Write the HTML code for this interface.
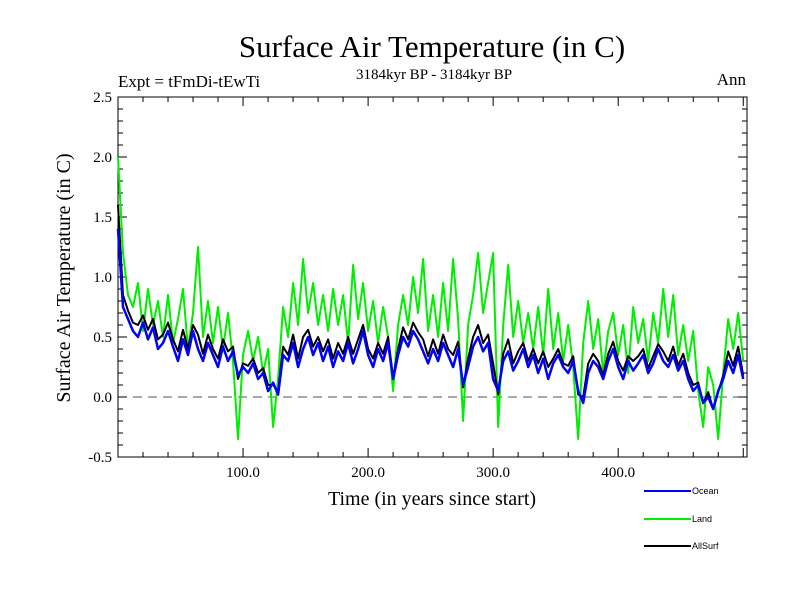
<!DOCTYPE html>
<html><head><meta charset="utf-8"><style>
body{margin:0;background:#fff;}
svg{display:block;}
text{font-family:"Liberation Serif",serif;fill:#000;}
.lg{font-family:"Liberation Sans",sans-serif;font-size:9px;}
</style></head><body>
<svg id="chart" width="800" height="600">
<rect width="800" height="600" fill="#fff"/>
<text x="432" y="57" font-size="31" text-anchor="middle">Surface Air Temperature (in C)</text>
<text x="434" y="79" font-size="15" text-anchor="middle">3184kyr BP - 3184kyr BP</text>
<text x="118" y="87" font-size="17">Expt = tFmDi-tEwTi</text>
<text x="746" y="85" font-size="17" text-anchor="end">Ann</text>
<text x="432" y="505" font-size="20" text-anchor="middle">Time (in years since start)</text>
<text transform="translate(70,278) rotate(-90)" font-size="20" text-anchor="middle">Surface Air Temperature (in C)</text>
<g id="axes"></g>
<g id="series"></g>
<g id="legend"></g>
</svg>
<script>
const years = [];
for (let y = 0; y <= 500; y += 4) years.push(y);
const ocean = [1.40,0.75,0.65,0.55,0.50,0.62,0.48,0.58,0.40,0.45,0.55,0.42,0.30,0.48,0.35,0.55,0.40,0.30,0.45,0.35,0.25,0.42,0.30,0.38,0.18,0.25,0.20,0.28,0.15,0.20,0.05,0.12,0.02,0.35,0.30,0.45,0.25,0.40,0.50,0.35,0.45,0.30,0.42,0.25,0.38,0.30,0.45,0.28,0.40,0.55,0.35,0.25,0.40,0.30,0.45,0.15,0.35,0.50,0.42,0.55,0.48,0.38,0.28,0.40,0.30,0.45,0.35,0.25,0.40,0.10,0.25,0.42,0.50,0.38,0.45,0.15,0.05,0.30,0.38,0.22,0.30,0.40,0.25,0.35,0.20,0.32,0.15,0.28,0.35,0.25,0.20,0.30,0.05,-0.05,0.20,0.30,0.25,0.15,0.30,0.40,0.25,0.15,0.30,0.22,0.28,0.35,0.20,0.28,0.40,0.30,0.25,0.35,0.22,0.30,0.15,0.05,0.10,-0.05,0.00,-0.10,0.05,0.15,0.30,0.20,0.35,0.15];
const land = [2.00,1.20,0.85,0.75,0.95,0.55,0.90,0.60,0.80,0.50,0.85,0.45,0.65,0.90,0.40,0.70,1.25,0.50,0.80,0.45,0.75,0.40,0.70,0.30,-0.35,0.35,0.55,0.30,0.50,0.20,0.40,-0.25,0.15,0.75,0.50,0.95,0.60,1.15,0.70,0.95,0.60,0.85,0.55,0.90,0.60,0.85,0.45,1.10,0.65,0.95,0.55,0.80,0.45,0.75,0.50,0.05,0.60,0.85,0.60,1.00,0.70,1.15,0.55,0.85,0.50,0.95,0.55,1.15,0.65,-0.20,0.60,0.85,1.20,0.70,0.95,1.20,-0.25,0.60,1.10,0.50,0.80,0.45,0.70,0.40,0.75,0.35,0.90,0.40,0.70,0.30,0.60,0.25,-0.35,0.45,0.80,0.40,0.65,0.20,0.55,0.70,0.35,0.60,0.20,0.75,0.45,0.65,0.30,0.70,0.45,0.90,0.50,0.85,0.35,0.60,0.30,0.55,0.05,-0.25,0.25,0.10,-0.35,0.20,0.65,0.40,0.70,0.30];
const allsurf = [1.60,0.85,0.72,0.62,0.60,0.68,0.56,0.65,0.48,0.52,0.62,0.48,0.38,0.56,0.40,0.60,0.52,0.36,0.52,0.40,0.32,0.48,0.38,0.42,0.15,0.28,0.26,0.32,0.20,0.24,0.10,0.10,0.05,0.42,0.35,0.52,0.32,0.50,0.56,0.42,0.50,0.38,0.48,0.32,0.45,0.36,0.50,0.36,0.48,0.60,0.40,0.32,0.45,0.36,0.50,0.16,0.40,0.58,0.48,0.62,0.54,0.48,0.34,0.48,0.36,0.52,0.40,0.35,0.46,0.08,0.32,0.50,0.60,0.45,0.52,0.28,0.02,0.36,0.48,0.28,0.38,0.45,0.30,0.40,0.28,0.38,0.25,0.32,0.40,0.28,0.26,0.34,0.02,0.00,0.28,0.36,0.30,0.18,0.36,0.46,0.30,0.22,0.34,0.30,0.34,0.40,0.24,0.34,0.44,0.38,0.30,0.42,0.26,0.36,0.20,0.10,0.12,-0.05,0.04,-0.10,0.04,0.18,0.38,0.26,0.42,0.18];
const yTicks = [-0.5,0.0,0.5,1.0,1.5,2.0,2.5];
const yTickLabels = ["-0.5","0.0","0.5","1.0","1.5","2.0","2.5"];
const xTicks = [100,200,300,400];
const xTickLabels = ["100.0","200.0","300.0","400.0"];

const L=118,R=747,T=97,B=457,XMIN=0,XMAX=503,YMIN=-0.5,YMAX=2.5;
const sx=v=>L+(v-XMIN)/(XMAX-XMIN)*(R-L);
const sy=v=>B-(v-YMIN)/(YMAX-YMIN)*(B-T);
const NS="http://www.w3.org/2000/svg";
function mk(tag,attrs,parent){const e=document.createElementNS(NS,tag);for(const k in attrs)e.setAttribute(k,attrs[k]);parent.appendChild(e);return e;}
const axes=document.getElementById('axes'),series=document.getElementById('series'),legend=document.getElementById('legend');

const zero=mk('line',{x1:L,x2:R,y1:sy(0),y2:sy(0),stroke:'#555','stroke-width':1,'stroke-dasharray':'9,6'},axes);



function drawSeries(vals,color,name,w){
  const d=vals.map((v,i)=>(i?'L':'M')+sx(years[i]).toFixed(1)+','+sy(v).toFixed(1)).join('');
  const p=mk('path',{d:d,fill:'none',stroke:color,'stroke-width':w,'stroke-linejoin':'round'},series);
  
  
}
drawSeries(land,'#00ee00','land-series',2);
drawSeries(allsurf,'#000','allsurf-series',2);
drawSeries(ocean,'#0000ff','ocean-series',2.5);

const frame=mk('rect',{x:L,y:T,width:R-L,height:B-T,fill:'none',stroke:'#000','stroke-width':1},axes);



// minor ticks
for(let v=YMIN;v<=YMAX+1e-9;v+=0.1){
  const y=sy(v),major=Math.abs(v*2-Math.round(v*2))<1e-6,len=major?9:5;
  mk('line',{x1:L,x2:L+len,y1:y,y2:y,stroke:'#000'},axes);
  mk('line',{x1:R,x2:R-len,y1:y,y2:y,stroke:'#000'},axes);
}
for(let v=20;v<XMAX;v+=20){
  const x=sx(v),major=v%100===0,len=major?9:5;
  mk('line',{x1:x,x2:x,y1:B,y2:B-len,stroke:'#000'},axes);
  mk('line',{x1:x,x2:x,y1:T,y2:T+len,stroke:'#000'},axes);
}
yTicks.forEach((v,i)=>{
  const t=mk('text',{x:L-6,y:sy(v)+5,'font-size':15,'text-anchor':'end'},axes);
  t.textContent=yTickLabels[i];
  
  
});
xTicks.forEach((v,i)=>{
  const t=mk('text',{x:sx(v),y:B+20,'font-size':15,'text-anchor':'middle'},axes);
  t.textContent=xTickLabels[i];
  
  
});

const legendItems=[['Ocean','#0000ff',491],['Land','#00ee00',519],['AllSurf','#000',546]];
legendItems.forEach(it=>{
  const g=mk('g',{},legend);
  
  
  mk('line',{x1:644,x2:691,y1:it[2],y2:it[2],stroke:it[1],'stroke-width':2},g);
  const t=mk('text',{x:692,y:it[2]+3,class:'lg'},g);
  t.textContent=it[0];
});
</script>
</body></html>
